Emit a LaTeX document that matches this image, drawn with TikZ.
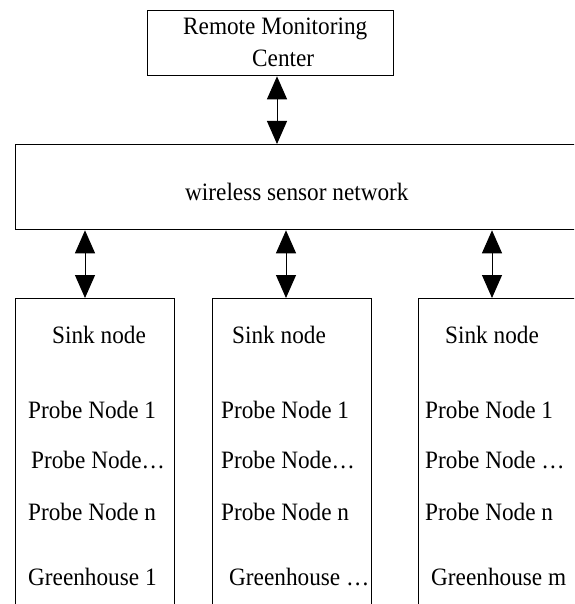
\documentclass[tikz,border=0pt]{standalone}
\usepackage{fontspec}
\setmainfont{Liberation Serif}[FakeStretch=0.93]
\usetikzlibrary{arrows.meta}
\begin{document}
\begin{tikzpicture}[x=1pt,y=-1pt,
  box/.style={draw,line width=1.3pt,inner sep=0pt},
  arr/.style={line width=1pt,{Triangle[length=23pt,width=20pt]}-{Triangle[length=23pt,width=20pt]}},
  lbl/.style={anchor=base west,inner sep=0pt,font=\fontsize{25}{30}\selectfont}]
\useasboundingbox (0,0) rectangle (574,604);
\clip (0,0) rectangle (574,604);
% boxes
\node[box,anchor=north west,minimum width=246pt,minimum height=65pt] (rmc) at (147,10) {};
\node[box,anchor=north west,minimum width=600pt,minimum height=85pt] (wsn) at (15,144) {};
\node[box,anchor=north west,minimum width=159pt,minimum height=340pt] (b1) at (15,298) {};
\node[box,anchor=north west,minimum width=159pt,minimum height=340pt] (b2) at (212,298) {};
\node[box,anchor=north west,minimum width=200pt,minimum height=340pt] (b3) at (418,298) {};
% arrows
\coordinate (a0) at (277,0);
\coordinate (a1) at (85,0);
\coordinate (a2) at (286,0);
\coordinate (a3) at (492,0);
\draw[arr] (rmc.south -| a0) -- (wsn.north -| a0);
\draw[arr] (wsn.south -| a1) -- (b1.north -| a1);
\draw[arr] (wsn.south -| a2) -- (b2.north -| a2);
\draw[arr] (wsn.south -| a3) -- (b3.north -| a3);
% texts
\node[lbl] (t0a) at (183,35) {Remote Monitoring};
\node[lbl] (t0b) at (252,67) {Center};
\node[lbl] (tw) at (185,200) {wireless sensor network};
% left
\node[lbl] (s1) at (52,343) {Sink node};
\node[lbl] (p11) at (28,418) {Probe Node 1};
\node[lbl] (p12) at (31,468) {Probe Node…};
\node[lbl] (p13) at (28,520) {Probe Node n};
\node[lbl] (g1) at (28,585) {Greenhouse 1};
% middle
\node[lbl] (s2) at (232,343) {Sink node};
\node[lbl] (p21) at (221,418) {Probe Node 1};
\node[lbl] (p22) at (221,468) {Probe Node…};
\node[lbl] (p23) at (221,520) {Probe Node n};
\node[lbl] (g2) at (229,585) {Greenhouse …};
% right
\node[lbl] (s3) at (445,343) {Sink node};
\node[lbl] (p31) at (425,418) {Probe Node 1};
\node[lbl] (p32) at (425,468) {Probe Node …};
\node[lbl] (p33) at (425,520) {Probe Node n};
\node[lbl] (g3) at (431,585) {Greenhouse m};
\end{tikzpicture}
\end{document}
